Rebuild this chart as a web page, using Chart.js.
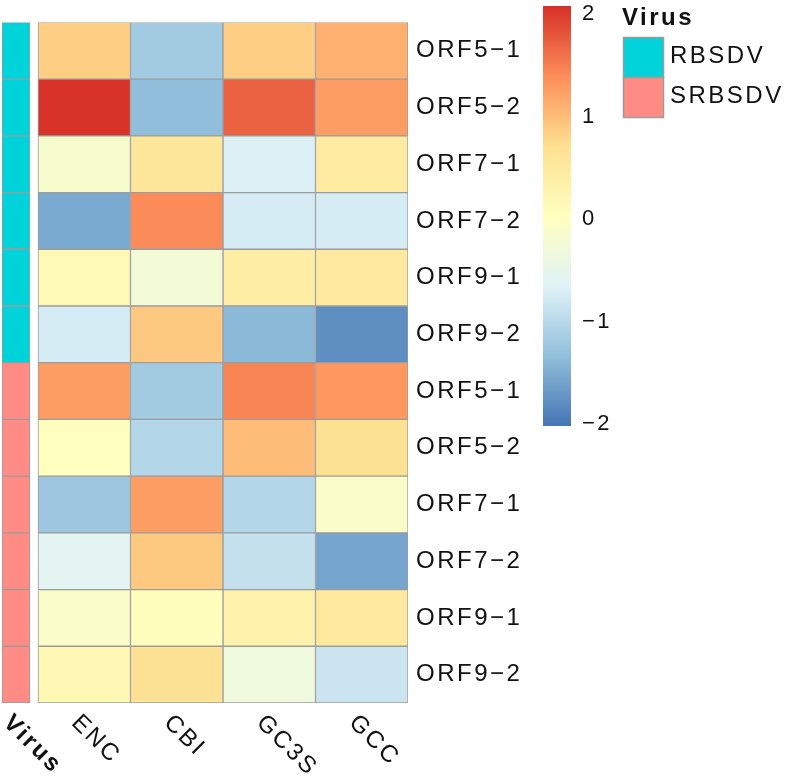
<!DOCTYPE html>
<html>
<head>
<meta charset="utf-8">
<script src="https://cdn.jsdelivr.net/npm/chart.js@4.4.1/dist/chart.umd.min.js"></script>
<style>
  html, body { margin: 0; padding: 0; background: #fff; }
  #wrap { width: 787px; height: 777px; position: relative; }
</style>
</head>
<body>
<div id="wrap"><canvas id="heatmap"></canvas></div>
<script>
// rows (top to bottom) and their virus group
var rowLabels = ["ORF5−1", "ORF5−2", "ORF7−1", "ORF7−2", "ORF9−1", "ORF9−2",
                 "ORF5−1", "ORF5−2", "ORF7−1", "ORF7−2", "ORF9−1", "ORF9−2"];
var rowVirus = ["RBSDV", "RBSDV", "RBSDV", "RBSDV", "RBSDV", "RBSDV",
                "SRBSDV", "SRBSDV", "SRBSDV", "SRBSDV", "SRBSDV", "SRBSDV"];
var columns = ["ENC", "CBI", "GC3S", "GCC"];

// scaled values, one array per column
var ENC  = [0.85, 2.05, -0.15, -1.55, 0.15, -0.75, 1.25, 0.02, -1.25, -0.6, -0.1, 0.2];
var CBI  = [-1.2, -1.35, 0.55, 1.4, -0.25, 0.9, -1.2, -1.05, 1.25, 0.9, 0.05, 0.65];
var GC3S = [0.85, 1.7, -0.7, -0.75, 0.4, -1.4, 1.45, 1.0, -1.05, -0.9, 0.3, -0.35];
var GCC  = [1.1, 1.25, 0.45, -0.75, 0.5, -1.8, 1.3, 0.65, -0.08, -1.6, 0.5, -0.85];

var virusGroups = ["RBSDV", "SRBSDV"];
var legendTicks = [-2, -1, 0, 1, 2];

// colour settings
var palette = ["#4575B4", "#91BFDB", "#E0F3F8", "#FFFFBF", "#FEE090", "#FC8D59", "#D73027"];
var colorMin = -2.03, colorMax = 2.07;
var virusColors = { RBSDV: "#00D4DA", SRBSDV: "#FF8C84" };
var cellBorder = "#9c9c9c";
var font = "'Liberation Sans', Arial, sans-serif";

function hexToRgb(h) {
    return [parseInt(h.substr(1, 2), 16), parseInt(h.substr(3, 2), 16), parseInt(h.substr(5, 2), 16)];
}
function valueColor(v) {
    var t = (v - colorMin) / (colorMax - colorMin);
    t = Math.max(0, Math.min(1, t)) * (palette.length - 1);
    var i = Math.min(Math.floor(t), palette.length - 2);
    var f = t - i;
    var a = hexToRgb(palette[i]), b = hexToRgb(palette[i + 1]);
    var c = a.map(function (x, k) { return Math.round(x + (b[k] - x) * f); });
    return "rgb(" + c.join(",") + ")";
}

var columnData = [ENC, CBI, GC3S, GCC];
var datasets = [{
    label: "Virus",
    data: rowVirus.map(function () { return [-0.389, -0.087]; }),
    backgroundColor: rowVirus.map(function (v) { return virusColors[v]; })
}];
columns.forEach(function (name, j) {
    datasets.push({
        label: name,
        data: columnData[j].map(function () { return [j, j + 1]; }),
        backgroundColor: columnData[j].map(valueColor)
    });
});

var extras = {
    id: "extras",
    beforeDraw: function (chart) {
        chart.ctx.letterSpacing = "2.5px";
    },
    afterDraw: function (chart) {
        var ctx = chart.ctx;
        var x = chart.scales.x;
        var bottom = chart.chartArea.bottom;
        ctx.save();
        ctx.fillStyle = "#111";
        ctx.textAlign = "left";
        ctx.textBaseline = "middle";

        // rotated column labels
        function rotated(text, cx, bold) {
            ctx.save();
            ctx.translate(cx - 9, bottom + 16);
            ctx.rotate(Math.PI / 4);
            ctx.font = (bold ? "bold " : "") + "24px " + font;
            ctx.fillText(text, 0, 0);
            ctx.restore();
        }
        rotated("Virus", x.getPixelForValue(-0.238), true);
        columns.forEach(function (c, j) { rotated(c, x.getPixelForValue(j + 0.5), false); });

        // colour key
        var cbLeft = 543, cbWidth = 28, cbTop = 6, cbBottom = 426;
        function cbY(v) { return cbTop + (colorMax - v) / (colorMax - colorMin) * (cbBottom - cbTop); }
        var grad = ctx.createLinearGradient(0, cbBottom, 0, cbTop);
        palette.forEach(function (p, i) { grad.addColorStop(i / (palette.length - 1), p); });
        ctx.fillStyle = grad;
        ctx.fillRect(cbLeft, cbTop, cbWidth, cbBottom - cbTop);
        ctx.fillStyle = "#111";
        ctx.font = "22px " + font;
        legendTicks.forEach(function (t) {
            var s = t < 0 ? "−" + Math.abs(t) : String(t);
            ctx.fillText(s, 582, cbY(t) + 1);
        });

        // virus legend
        ctx.font = "bold 24px " + font;
        ctx.fillText("Virus", 622, 18);
        ctx.font = "24px " + font;
        virusGroups.forEach(function (g, i) {
            var top = 37 + i * 40;
            ctx.fillStyle = virusColors[g];
            ctx.fillRect(623, top, 40, 40);
            ctx.strokeStyle = cellBorder;
            ctx.lineWidth = 1.5;
            ctx.strokeRect(623.5, top + 0.5, 40, 40);
            ctx.fillStyle = "#111";
            ctx.fillText(g, 670, top + 19);
        });
        ctx.restore();
    }
};

new Chart(document.getElementById("heatmap"), {
    type: "bar",
    data: { labels: rowLabels, datasets: datasets },
    options: {
        indexAxis: "y",
        responsive: true,
        maintainAspectRatio: false,
        animation: false,
        layout: { padding: { left: 2, top: 6, right: 249, bottom: 74 } },
        datasets: {
            bar: {
                grouped: false,
                categoryPercentage: 1,
                barPercentage: 1,
                borderWidth: 1,
                borderColor: cellBorder,
                borderSkipped: false
            }
        },
        plugins: { legend: { display: false }, tooltip: { enabled: false } },
        scales: {
            x: { type: "linear", min: -0.389, max: 4, display: false },
            y: {
                type: "category",
                position: "right",
                offset: true,
                grid: { display: false, drawTicks: false },
                border: { display: false },
                afterFit: function (scale) { scale.width = 130; },
                ticks: {
                    padding: 8,
                    color: "#111",
                    font: { family: font, size: 24 },
                    autoSkip: false
                }
            }
        }
    },
    plugins: [extras]
});
</script>
</body>
</html>
